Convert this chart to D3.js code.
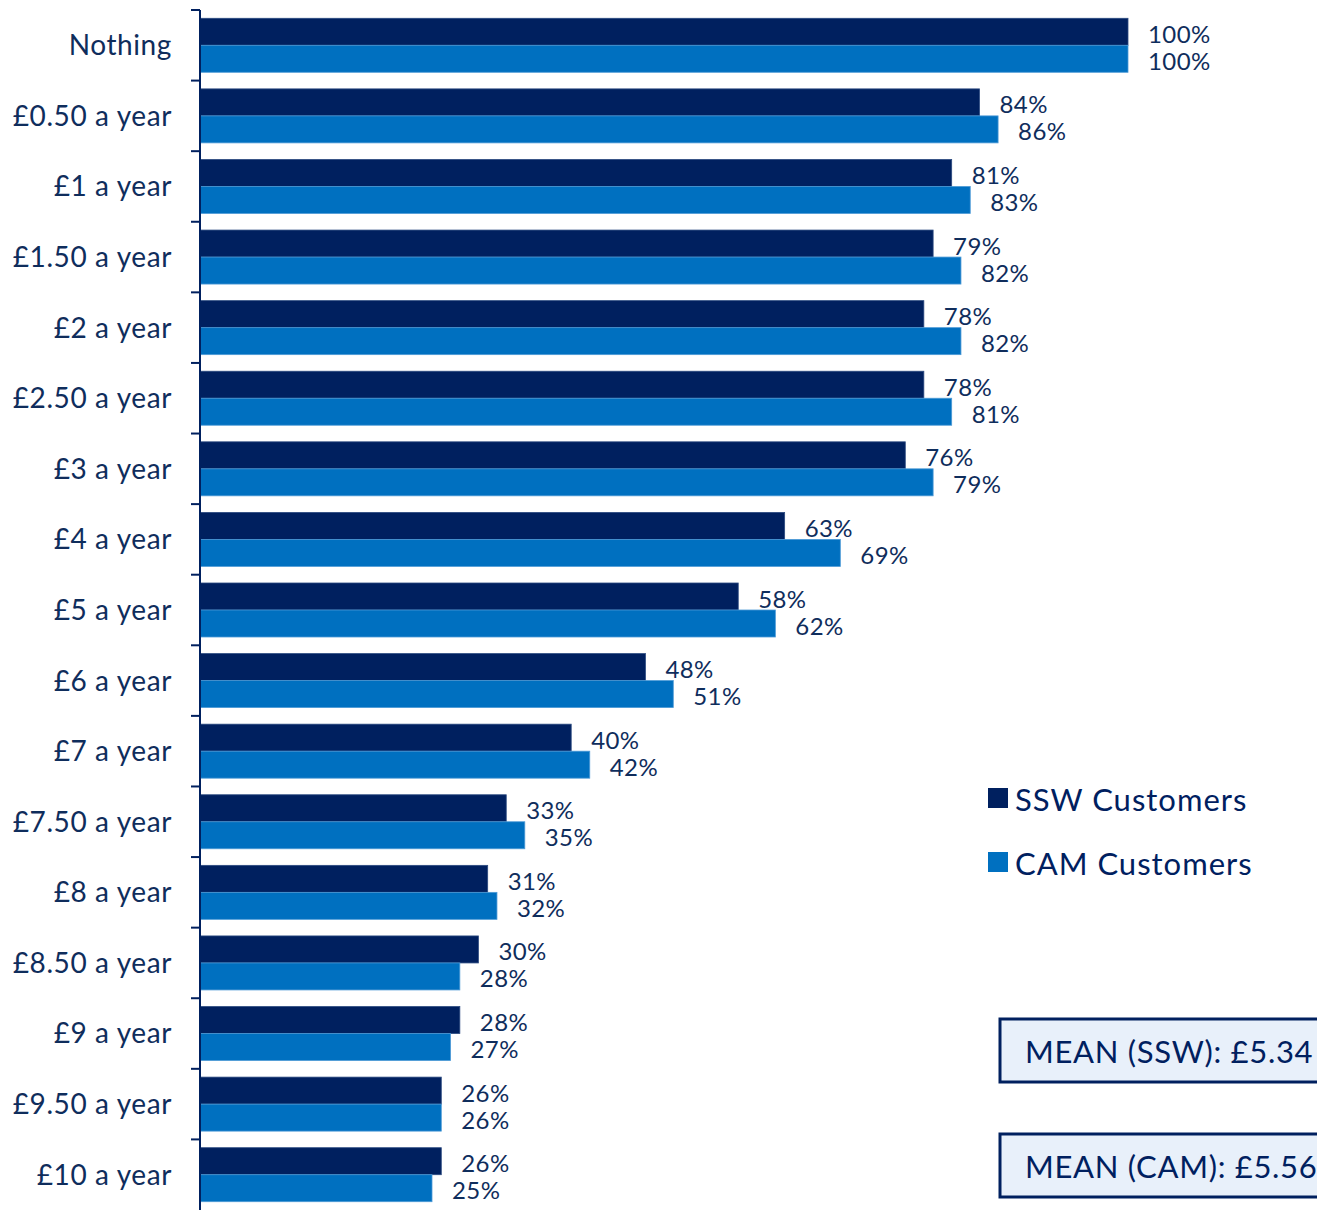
<!DOCTYPE html>
<html>
<head>
<meta charset="utf-8">
<script src="https://cdn.jsdelivr.net/npm/d3@7"></script>
<style>
  html, body { margin: 0; padding: 0; background: #fff; }
  svg { display: block; }
  text { font-family: Lato, "Open Sans", sans-serif; }
</style>
</head>
<body>
<script>
// Willingness to pay: share of customers accepting each annual amount
const categories = ["Nothing", "£0.50 a year", "£1 a year", "£1.50 a year", "£2 a year",
  "£2.50 a year", "£3 a year", "£4 a year", "£5 a year", "£6 a year", "£7 a year",
  "£7.50 a year", "£8 a year", "£8.50 a year", "£9 a year", "£9.50 a year", "£10 a year"];
const sswValues = [100, 84, 81, 79, 78, 78, 76, 63, 58, 48, 40, 33, 31, 30, 28, 26, 26];
const camValues = [100, 86, 83, 82, 82, 81, 79, 69, 62, 51, 42, 35, 32, 28, 27, 26, 25];
const seriesNames = ["SSW Customers", "CAM Customers"];
const meanLabels = ["MEAN (SSW): £5.34", "MEAN (CAM): £5.56"];

const W = 1317, H = 1210;
const colors = ["#00205f", "#0070c0"];
const textColor = "#0f2d5c";

const svg = d3.select("body").append("svg").attr("width", W).attr("height", H);

const x = d3.scaleLinear().domain([0, 100]).range([200, 1128]);
const y = d3.scaleBand().domain(categories).range([10, 1210]).paddingInner(0.235).paddingOuter(0.1175);
const sub = d3.scaleBand().domain([0, 1]).range([0, y.bandwidth()]);

const rows = categories.map((c, i) => ({ c, vals: [sswValues[i], camValues[i]] }));

const g = svg.append("g");
const row = g.selectAll("g.row").data(rows).join("g").attr("class", "row")
  .attr("transform", d => `translate(0,${y(d.c)})`);

row.selectAll("rect").data(d => d.vals.map((v, k) => ({ v, k }))).join("rect")
  .attr("x", x(0))
  .attr("y", d => sub(d.k))
  .attr("width", d => x(d.v) - x(0))
  .attr("height", sub.bandwidth())
  .attr("fill", d => colors[d.k])
  .attr("stroke", d => d.k ? "#4d9ad6" : "#2b4a80")
  .attr("stroke-width", 0.8);

row.selectAll("text.val").data(d => d.vals.map((v, k) => ({ v, k }))).join("text")
  .attr("class", "val")
  .attr("x", d => x(d.v) + 20)
  .attr("y", d => sub(d.k) + sub.bandwidth() / 2 + 1.5)
  .attr("dominant-baseline", "central")
  .attr("font-size", 24)
  .attr("letter-spacing", 0.4)
  .attr("fill", textColor)
  .text(d => d.v + "%");

// Category axis on the left
const axis = d3.axisLeft(y).tickSize(0).tickPadding(28);
const ax = svg.append("g").attr("transform", `translate(${x(0)},1)`).call(axis);
ax.select(".domain").remove();
ax.selectAll("text").attr("font-size", 28).attr("letter-spacing", 0.6).attr("fill", textColor)
  .style("font-family", "Lato, 'Open Sans', sans-serif");

// Axis line and tick marks between categories
const tickYs = categories.map(c => y(c) - y.step() * y.paddingInner() / 2);
svg.append("line").attr("x1", 200).attr("x2", 200).attr("y1", tickYs[0]).attr("y2", H)
  .attr("stroke", "#00205f").attr("stroke-width", 2);
svg.selectAll("line.tick").data(tickYs).join("line").attr("class", "tick")
  .attr("x1", 191).attr("x2", 200).attr("y1", d => d).attr("y2", d => d)
  .attr("stroke", "#00205f").attr("stroke-width", 2);

// Legend
const legend = svg.append("g");
seriesNames.forEach((name, k) => {
  const ly = 798 + k * 64;
  legend.append("rect").attr("x", 988).attr("y", ly - 10).attr("width", 20).attr("height", 20)
    .attr("fill", colors[k]);
  legend.append("text").attr("x", 1015).attr("y", ly + 1).attr("dominant-baseline", "central")
    .attr("font-size", 31).attr("letter-spacing", 1.0).attr("fill", "#00205f").text(name);
});

// Mean boxes
meanLabels.forEach((label, k) => {
  const by = 1019 + k * 115;
  svg.append("rect").attr("x", 1000).attr("y", by).attr("width", 340).attr("height", 63)
    .attr("fill", "#e8f0fa").attr("stroke", "#00205f").attr("stroke-width", 3);
  svg.append("text").attr("x", 1025).attr("y", by + 32).attr("dominant-baseline", "central")
    .attr("font-size", 31).attr("letter-spacing", 0.7).attr("fill", "#00205f").text(label);
});
</script>
</body>
</html>
